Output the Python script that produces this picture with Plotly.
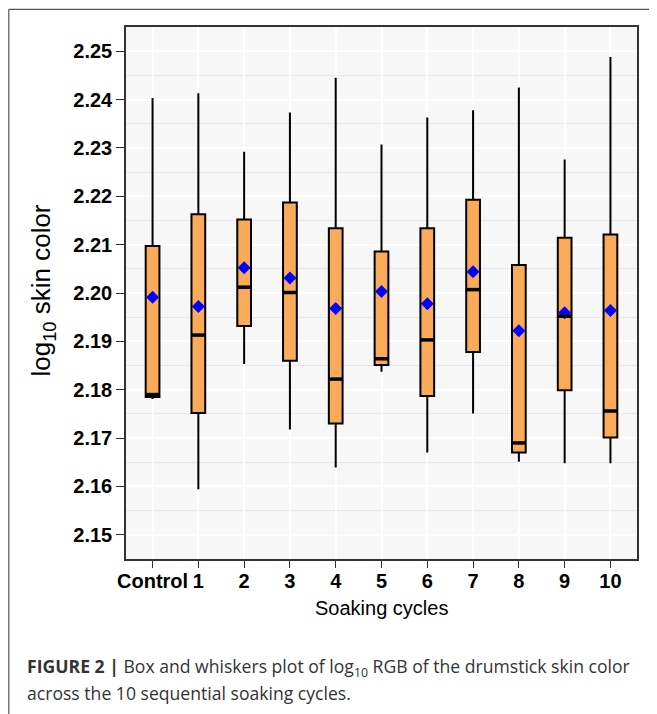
import plotly.graph_objects as go

categories = ["Control", "1", "2", "3", "4", "5", "6", "7", "8", "9", "10"]
upper_whisker = [2.2403, 2.2413, 2.2292, 2.2373, 2.2445, 2.2307, 2.2363, 2.2378, 2.2425, 2.2276, 2.2488]
q3_values = [2.2097, 2.2163, 2.2152, 2.2187, 2.2134, 2.2086, 2.2134, 2.2193, 2.2058, 2.2114, 2.2121]
median_values = [2.1790, 2.1913, 2.2012, 2.2001, 2.1822, 2.1864, 2.1903, 2.2007, 2.1690, 2.1952, 2.1756]
q1_values = [2.1785, 2.1752, 2.1932, 2.1860, 2.1730, 2.1851, 2.1787, 2.1878, 2.1670, 2.1799, 2.1701]
lower_whisker = [2.1781, 2.1594, 2.1853, 2.1718, 2.1639, 2.1837, 2.1670, 2.1751, 2.1651, 2.1648, 2.1648]
mean_values = [2.1991, 2.1972, 2.2052, 2.2031, 2.1968, 2.2003, 2.1978, 2.2044, 2.1922, 2.1959, 2.1964]
y_ticks = [2.15, 2.16, 2.17, 2.18, 2.19, 2.20, 2.21, 2.22, 2.23, 2.24, 2.25]

BOX_W = 0.3
FONT = "Liberation Sans"
CAP_FONT = "Open Sans"

# page body has an 8px margin; work in page pixel coordinates, then offset
OFF = 8
W, H = 657 - OFF, 714 - OFF
L, R, T, B = 125.7 - OFF, 636.7 - OFF, 26.7 - OFF, 559.0 - OFF
pw, ph = R - L, B - T
def px(x): return (x - OFF - L) / pw
def py(y): return (B - (y - OFF)) / ph

fig = go.Figure()
fig.add_trace(go.Box(
    x=categories,
    q1=q1_values, median=median_values, q3=q3_values,
    lowerfence=lower_whisker, upperfence=upper_whisker,
    fillcolor="#FAAB5A",
    line=dict(color="black", width=2),
    whiskerwidth=0,
    width=BOX_W,
    boxpoints=False,
    showlegend=False,
    hoverinfo="skip",
))
fig.add_trace(go.Scatter(
    x=categories, y=mean_values, mode="markers",
    marker=dict(symbol="diamond", size=10, color="#0000FF"),
    showlegend=False,
))

shapes = []
for i, m in enumerate(median_values):
    shapes.append(dict(type="line", xref="x", yref="y",
                       x0=i - BOX_W / 2, x1=i + BOX_W / 2, y0=m, y1=m,
                       line=dict(color="black", width=3.5), layer="above"))

# outer figure frame (top + left)
shapes.append(dict(type="line", xref="paper", yref="paper",
                   x0=px(8.5), x1=px(670), y0=py(9), y1=py(9),
                   line=dict(color="#555555", width=1.2)))
shapes.append(dict(type="line", xref="paper", yref="paper",
                   x0=px(8.5), x1=px(8.5), y0=py(9), y1=py(730),
                   line=dict(color="#555555", width=1.2)))

annotations = [
    dict(text="log<sub>10</sub> skin color", xref="paper", yref="paper",
         x=px(42), y=py(290), textangle=-90, showarrow=False,
         font=dict(family=FONT, size=26, color="black"),
         xanchor="center", yanchor="middle"),
    dict(text="Soaking cycles", xref="paper", yref="paper",
         x=0.5, y=py(608), showarrow=False,
         font=dict(family=FONT, size=20, color="black"),
         xanchor="center", yanchor="middle"),
    dict(text="<b>FIGURE 2 |</b> Box and whiskers plot of log<sub>10</sub> RGB of the drumstick skin color",
         xref="paper", yref="paper", x=px(25), y=py(668), showarrow=False,
         font=dict(family=CAP_FONT, size=17.6, color="#333333"),
         xanchor="left", yanchor="middle"),
    dict(text="across the 10 sequential soaking cycles.",
         xref="paper", yref="paper", x=px(25), y=py(693), showarrow=False,
         font=dict(family=CAP_FONT, size=17.6, color="#333333"),
         xanchor="left", yanchor="middle"),
]

fig.update_layout(
    width=W, height=H,
    margin=dict(l=L, r=W - R, t=T, b=H - B),
    paper_bgcolor="white",
    plot_bgcolor="#F7F7F7",
    shapes=shapes,
    annotations=annotations,
    font=dict(family=FONT),
)
fig.update_xaxes(
    type="category", categoryorder="array", categoryarray=categories,
    range=[-0.58, 10.58],
    showgrid=True, gridcolor="white", gridwidth=1.5,
    showline=True, linecolor="#333333", linewidth=1.5, mirror=True,
    ticks="outside", ticklen=7, tickcolor="#333333", tickwidth=1.2,
    ticklabelstandoff=-4,
    tickfont=dict(family=FONT, size=20, color="black", weight="bold"),
    zeroline=False,
)
fig.update_yaxes(
    range=[2.145, 2.255],
    tickvals=y_ticks, tickformat=".2f",
    showgrid=True, gridcolor="white", gridwidth=1.5,
    minor=dict(dtick=0.005, tick0=2.145, showgrid=True, gridcolor="#E4E4F6", gridwidth=1, ticks=""),
    showline=True, linecolor="#333333", linewidth=1.5, mirror=True,
    ticks="outside", ticklen=8, tickcolor="#333333", tickwidth=1.2,
    tickfont=dict(family=FONT, size=20, color="black", weight="bold"),
    zeroline=False,
)

fig.write_html("out.html")
